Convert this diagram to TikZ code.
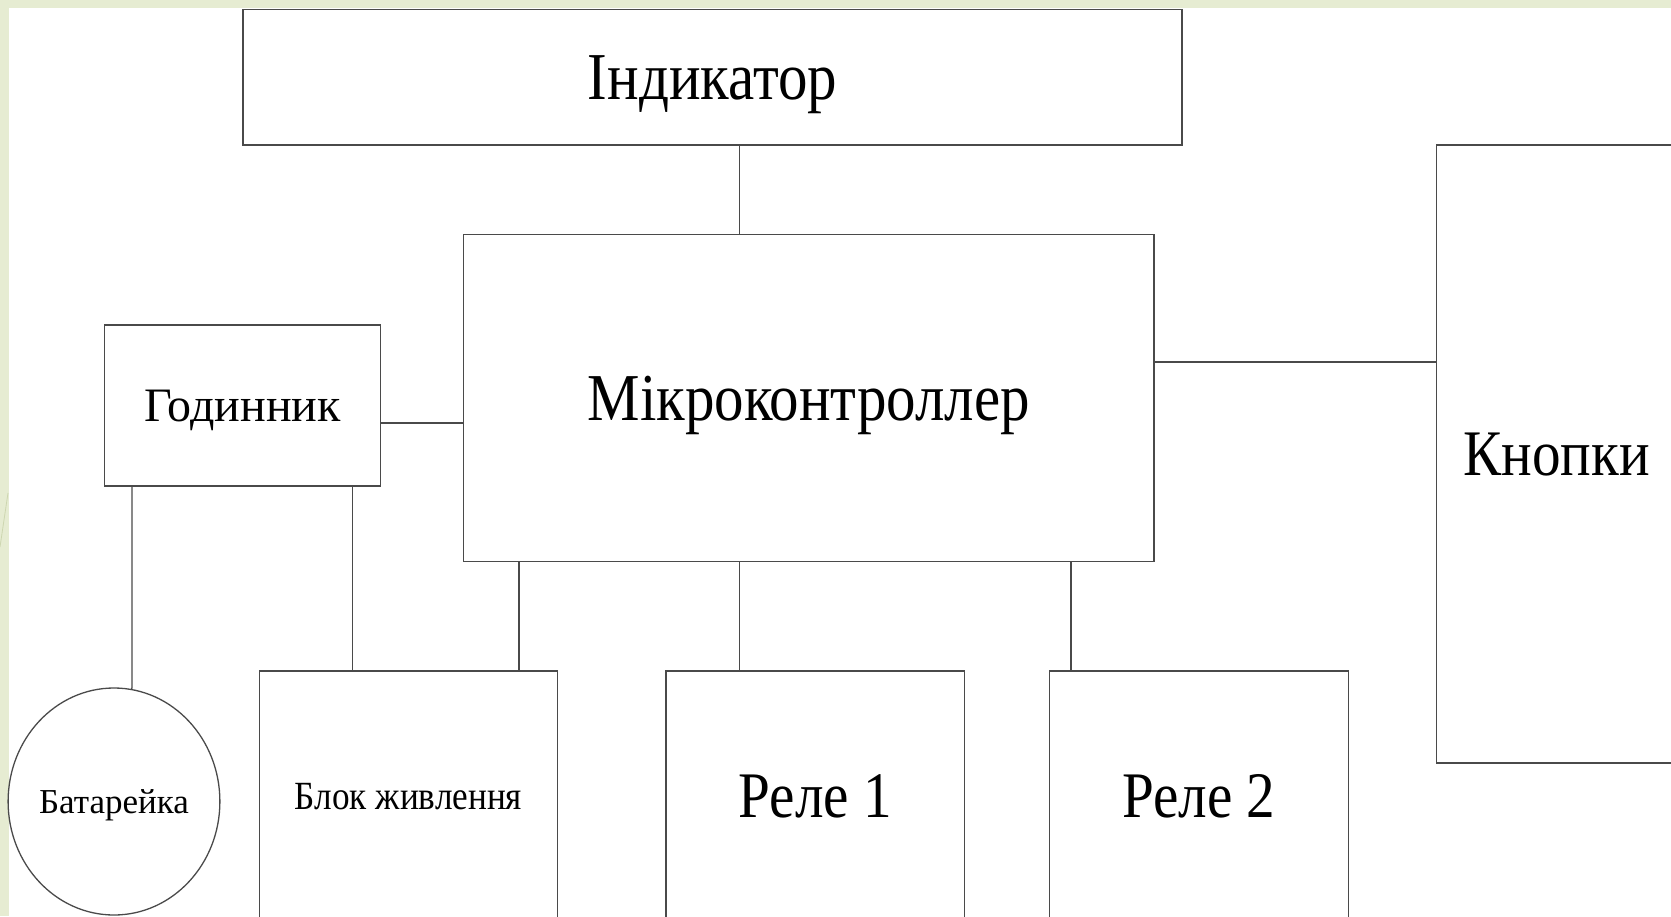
\documentclass[tikz,border=0pt]{standalone}
\usepackage{fontspec}
\setmainfont[FakeStretch=0.88]{Liberation Serif}
\newfontfamily\wideserif{Liberation Serif}
\usepackage{tikz}
\usetikzlibrary{positioning, calc}
\usetikzlibrary{shapes}
\definecolor{slidegreen}{HTML}{E6ECD2}
\definecolor{slideline}{HTML}{CDD6B0}
\definecolor{frameline}{HTML}{4A4A4A}

\begin{document}
\begin{tikzpicture}[x=1pt,y=-1pt,line width=1.3pt,draw=frameline]

	\def \busa{739.6}
	\def \busb{1071}
	\def \busc{519}
	\tikzstyle{blk}=[draw,rectangle,inner sep=0pt,text depth=0pt,text centered]
	\tikzstyle{big}=[font=\fontsize{65}{72}\selectfont]
	\useasboundingbox (0,0) rectangle (1671,916);
	\clip (0,0) rectangle (1671,916);
	% slide frame
	\fill[slidegreen] (0,0) rectangle (1671,8);
	\fill[slidegreen] (0,0) rectangle (9,916);
	\draw[slideline,line width=0.8pt] (0,547) -- (8,493);

	% blocks
	\node[blk,font=\fontsize{67}{74}\selectfont,minimum width=939,minimum height=135.5] (ind)	at (712.5,77.3)	{Індикатор};
	\node[blk,font=\fontsize{67}{74}\selectfont,minimum width=690.5,minimum height=327] (mc)	at (808.8,398)	{Мікроконтроллер};
	\node[blk,font=\wideserif\fontsize{48}{54}\selectfont,minimum width=276,minimum height=161] (clk)	at (242.5,405.5)	{Годинник};
	\node[blk,big,minimum width=240,minimum height=618] (btn)	at (1556.6,454)	{Кнопки};
	\node[draw,ellipse,inner sep=0pt,text depth=0pt,minimum width=204,minimum height=227,font=\wideserif\fontsize{35}{40}\selectfont] (bat)	at (114,801.5)	{Батарейка};
	\node[blk,font=\fontsize{40}{45}\selectfont,minimum width=298.5,minimum height=250] (pwr)	at (408.5,796)	{Блок живлення};
	\node[blk,big,minimum width=298.5,minimum height=250] (rel1)	at (815.2,796)	{Реле 1};
	\node[blk,big,minimum width=298.5,minimum height=250] (rel2)	at (1198.9,796)	{Реле 2};

	% links
	\draw (ind.south -| \busa,0) -- (mc.north -| \busa,0);
	\draw (clk.east |- 0,423) -- (mc.west |- 0,423);
	\draw (mc.east |- 0,362) -- (btn.west |- 0,362);
	\draw (clk.south -| 132,0) -- (bat.north -| 132,0) -- (bat);
	\draw (clk.south -| 352.7,0) -- (pwr.north -| 352.7,0);
	\draw (mc.south -| \busc,0) -- (pwr.north -| \busc,0);
	\draw (mc.south -| \busa,0) -- (rel1.north -| \busa,0);
	\draw (mc.south -| \busb,0) -- (rel2.north -| \busb,0);
\end{tikzpicture}
\end{document}
